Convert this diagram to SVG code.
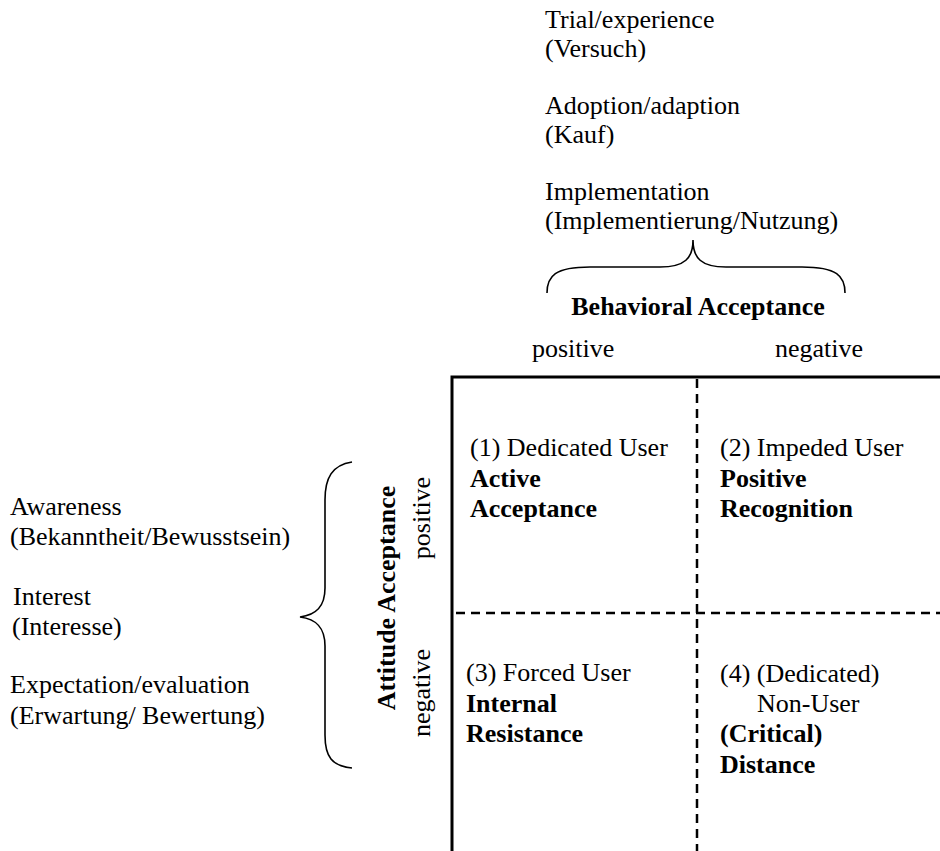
<svg xmlns="http://www.w3.org/2000/svg" width="940" height="851" viewBox="0 0 940 851">
<style>
text{font-family:"Liberation Serif","Times New Roman",serif;font-size:26px;fill:#000}
.b{font-weight:bold}
.brace{fill:none;stroke:#000;stroke-width:1.6}
.frame{fill:none;stroke:#000;stroke-width:3}
.dash{fill:none;stroke:#000;stroke-width:2.5;stroke-dasharray:9 6}
</style>
<rect width="940" height="851" fill="#fff"/>
<g id="behavior-stages">
<text x="545" y="28">Trial/experience</text>
<text x="545" y="57">(Versuch)</text>
<text x="545" y="114">Adoption/adaption</text>
<text x="545" y="143">(Kauf)</text>
<text x="545" y="200">Implementation</text>
<text x="545" y="229">(Implementierung/Nutzung)</text>
</g>
<g id="attitude-stages">
<text x="10" y="515">Awareness</text>
<text x="10" y="545">(Bekanntheit/Bewusstsein)</text>
<text x="13" y="605">Interest</text>
<text x="12" y="635">(Interesse)</text>
<text x="10" y="693">Expectation/evaluation</text>
<text x="10" y="724">(Erwartung/ Bewertung)</text>
</g>
<g id="connectors">
<path class="brace" d="M547,293 C547,276 555,267 590,267 L660,267 C685,267 693,258 693,240 C693,258 701,267 726,267 L802,267 C837,267 845,276 845,293"/>
<path class="brace" d="M352,462 C332,465 325,478 325,500 L325,588 C325,607 316,615 300,617 C316,619 325,627 325,646 L325,735 C325,757 332,766 352,768"/>
</g>
<g id="behavioral-axis">
<text class="b" x="698" y="315" text-anchor="middle">Behavioral Acceptance</text>
<text x="532" y="357">positive</text>
<text x="775" y="357">negative</text>
</g>
<g id="attitude-axis">
<text class="b" transform="translate(395,598) rotate(-90)" text-anchor="middle">Attitude Acceptance</text>
<text transform="translate(430,518) rotate(-90)" text-anchor="middle">positive</text>
<text transform="translate(430,693) rotate(-90)" text-anchor="middle">negative</text>
</g>
<g id="grid">
<path class="frame" d="M452,851 L452,377 L940,377"/>
<line class="dash" x1="697" y1="379" x2="697" y2="851"/>
<line class="dash" x1="456" y1="613" x2="940" y2="613"/>
</g>
<g id="q1">
<text x="470" y="456">(1) Dedicated User</text>
<text class="b" x="470" y="487">Active</text>
<text class="b" x="470" y="517">Acceptance</text>
</g>
<g id="q2">
<text x="720" y="456">(2) Impeded User</text>
<text class="b" x="720" y="487">Positive</text>
<text class="b" x="720" y="517">Recognition</text>
</g>
<g id="q3">
<text x="466" y="681">(3) Forced User</text>
<text class="b" x="466" y="712">Internal</text>
<text class="b" x="466" y="742">Resistance</text>
</g>
<g id="q4">
<text x="720" y="682">(4) (Dedicated)</text>
<text x="757" y="712">Non-User</text>
<text class="b" x="720" y="742">(Critical)</text>
<text class="b" x="720" y="773">Distance</text>
</g>
</svg>
